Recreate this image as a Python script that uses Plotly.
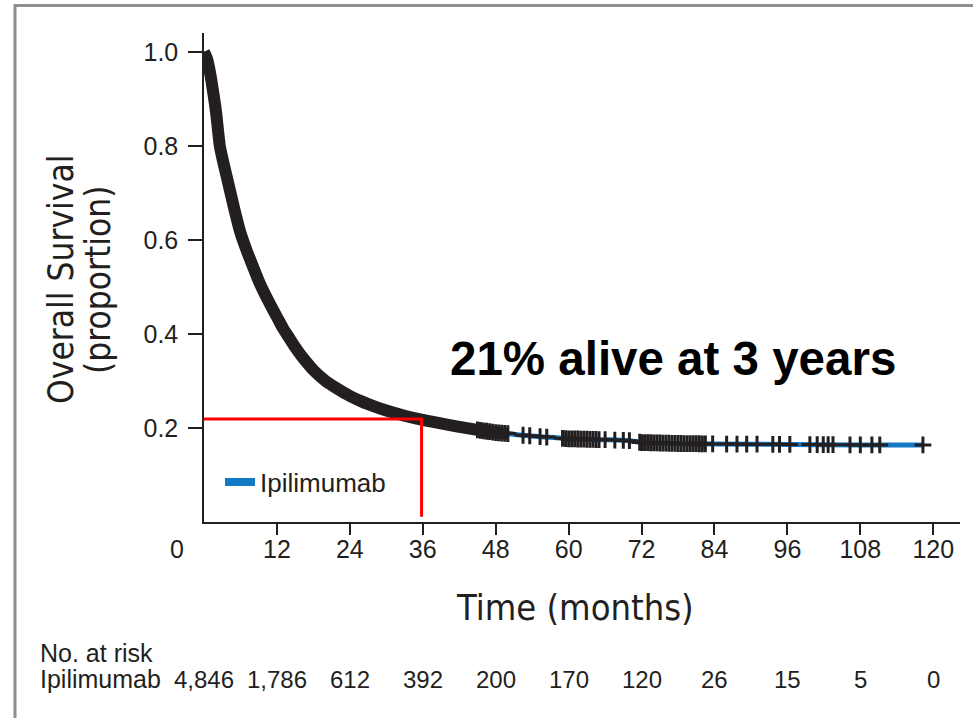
import numpy as np
import plotly.graph_objects as go

# ---------------- data ----------------
months = [0, 0.5, 1, 1.5, 2, 2.6, 3, 4, 5, 6, 7, 8, 9, 10, 11, 12, 13, 14, 15, 16,
          17, 18, 20, 22, 24, 26, 28, 30, 33, 36, 40, 44, 48, 50, 52, 56, 60, 66,
          70, 72, 78, 84, 96, 108, 118.3]
survival = [1.0, 0.985, 0.955, 0.915, 0.87, 0.80, 0.775, 0.72, 0.665, 0.615, 0.578,
            0.545, 0.513, 0.485, 0.46, 0.436, 0.412, 0.392, 0.372, 0.354, 0.338,
            0.323, 0.300, 0.283, 0.268, 0.256, 0.246, 0.237, 0.226, 0.217, 0.207,
            0.198, 0.190, 0.188, 0.185, 0.181, 0.177, 0.175, 0.173, 0.169, 0.167,
            0.166, 0.165, 0.164, 0.164]
dense_censor_until = 50   # censor marks form a solid band up to here

censor_months = [45, 45.5, 46, 46.5, 47, 47.5, 48, 48.5, 49, 49.5, 50,
                 52.5, 53.6, 55.3, 56.4,
                 59, 59.5, 60, 60.5, 61, 61.5, 62, 62.5, 63, 63.5, 64, 64.5, 65, 66,
                 67.6, 69, 70, 71.7,
                 72, 72.5, 73, 73.5, 74, 74.5, 75, 75.5, 76, 76.5, 77, 77.5, 78,
                 78.5, 79, 79.5, 80, 80.5, 81, 81.5, 82, 82.5,
                 83.7, 86, 87.7, 89.3, 91, 93.6, 94.7, 96.4,
                 99.7, 100.9, 101.9, 102.7, 103.5, 106.3, 108, 109.9, 111.2, 118.3]

x_ticks = [12, 24, 36, 48, 60, 72, 84, 96, 108, 120]
y_ticks = [0.2, 0.4, 0.6, 0.8, 1.0]
y_tick_labels = ["0.2", "0.4", "0.6", "0.8", "1.0"]

risk_months = [0, 12, 24, 36, 48, 60, 72, 84, 96, 108, 120]
risk_counts = ["4,846", "1,786", "612", "392", "200", "170", "120", "26", "15", "5", "0"]

ref_month = 35.8
ref_surv = 0.219
ref_bottom = 0.011

series_name = "Ipilimumab"
headline = "21% alive at 3 years"

# ---------------- styling ----------------
INK = "#231f20"
BLUE = "#1479c4"
RED = "#ff0000"
SANS = "Liberation Sans, Arial, sans-serif"
NARROW = "Liberation Sans Narrow, Arial Narrow, DejaVu Sans Condensed, Liberation Sans, sans-serif"

W, H = 973, 718
ML, MR, MT, MB = 204, 13, 33, 196
XMAX, YMAX = 124.4, 1.04
PW = W - ML - MR
PH = H - MT - MB


def px_to_paper_x(px):
    return (px - ML) / PW


def px_to_paper_y(py):
    return (H - MB - py) / PH


m = np.array(months)
s = np.array(survival)
band = m <= dense_censor_until
cm = np.array(censor_months)
cs = np.interp(cm, m, s)

fig = go.Figure()

# blue KM line
fig.add_trace(go.Scatter(x=m, y=s, mode="lines",
                         line=dict(color=BLUE, width=5, shape="spline", smoothing=0.6),
                         showlegend=False, hoverinfo="skip"))
# dense censor band
fig.add_trace(go.Scatter(x=m[band], y=s[band], mode="lines",
                         line=dict(color=INK, width=12, shape="spline", smoothing=0.6),
                         showlegend=False, hoverinfo="skip"))
# censor marks
fig.add_trace(go.Scatter(x=cm, y=cs, mode="markers",
                         marker=dict(symbol="cross-thin", size=12,
                                     line=dict(color=INK, width=3)),
                         showlegend=False, hoverinfo="skip"))
# red reference lines
fig.add_trace(go.Scatter(x=[0, ref_month, ref_month], y=[ref_surv, ref_surv, ref_bottom],
                         mode="lines", line=dict(color=RED, width=3),
                         showlegend=False, hoverinfo="skip"))
# legend entry
fig.add_trace(go.Scatter(x=[None], y=[None], mode="lines", name=series_name,
                         line=dict(color=BLUE, width=8), showlegend=True))

annotations = []
# y title (two lines)
annotations.append(dict(text="Overall Survival", xref="paper", yref="paper",
                        x=0, y=px_to_paper_y(280), xshift=61 - ML, textangle=-90,
                        xanchor="center", yanchor="middle", showarrow=False,
                        font=dict(family=NARROW, size=35, color=INK)))
annotations.append(dict(text="(proportion)", xref="paper", yref="paper",
                        x=0, y=px_to_paper_y(280), xshift=98 - ML, textangle=-90,
                        xanchor="center", yanchor="middle", showarrow=False,
                        font=dict(family=NARROW, size=35, color=INK)))
# x title
annotations.append(dict(text="Time (months)", xref="paper", yref="paper",
                        x=px_to_paper_x(575), y=px_to_paper_y(607),
                        xanchor="center", yanchor="middle", showarrow=False,
                        font=dict(family=NARROW, size=36, color=INK)))
# origin label
annotations.append(dict(text="0", xref="paper", yref="paper", x=0,
                        y=px_to_paper_y(549), xshift=177 - ML,
                        xanchor="center", yanchor="middle", showarrow=False,
                        font=dict(family=SANS, size=25, color=INK)))
# headline
annotations.append(dict(text="<b>" + headline + "</b>", xref="paper", yref="paper",
                        x=px_to_paper_x(673), y=px_to_paper_y(358),
                        xanchor="center", yanchor="middle", showarrow=False,
                        font=dict(family=SANS, size=47.5, color="#000000")))
# at-risk table
annotations.append(dict(text="No. at risk", xref="paper", yref="paper", x=0,
                        y=px_to_paper_y(653), xshift=38 - ML, xanchor="left",
                        yanchor="middle", showarrow=False,
                        font=dict(family=SANS, size=25, color=INK)))
annotations.append(dict(text=series_name, xref="paper", yref="paper", x=0,
                        y=px_to_paper_y(679), xshift=38 - ML, xanchor="left",
                        yanchor="middle", showarrow=False,
                        font=dict(family=SANS, size=25, color=INK)))
for t, n in zip(risk_months, risk_counts):
    annotations.append(dict(text=n, x=t, xref="x", yref="paper",
                            y=px_to_paper_y(679), xanchor="center",
                            yanchor="middle", showarrow=False,
                            font=dict(family=SANS, size=24, color=INK)))

fig.update_layout(
    width=W, height=H,
    margin=dict(l=ML, r=MR, t=MT, b=MB, pad=0),
    paper_bgcolor="white", plot_bgcolor="white",
    annotations=annotations,
    showlegend=True,
    legend=dict(x=px_to_paper_x(220), y=px_to_paper_y(482), xanchor="left",
                yanchor="middle", bgcolor="rgba(0,0,0,0)", borderwidth=0,
                font=dict(family=SANS, size=26, color=INK)),
    shapes=[dict(type="rect", xref="paper", yref="paper",
                 x0=px_to_paper_x(15), x1=px_to_paper_x(1000),
                 y0=px_to_paper_y(760), y1=px_to_paper_y(5.5),
                 line=dict(color="#8f8f8f", width=3), fillcolor="rgba(0,0,0,0)",
                 layer="below")],
)
fig.update_xaxes(range=[0, XMAX], tickvals=x_ticks, ticktext=[str(v) for v in x_ticks],
                 showline=True, linecolor=INK, linewidth=1.5, ticks="outside",
                 ticklen=11, tickwidth=1.5, tickcolor=INK, showgrid=False,
                 zeroline=False, ticklabelstandoff=-7,
                 tickfont=dict(family=SANS, size=25, color=INK))
fig.update_yaxes(range=[0, YMAX], tickvals=y_ticks, ticktext=y_tick_labels,
                 showline=True, linecolor=INK, linewidth=1.5, ticks="outside",
                 ticklen=14, tickwidth=1.5, tickcolor=INK, showgrid=False,
                 zeroline=False, ticklabelstandoff=5,
                 tickfont=dict(family=SANS, size=25, color=INK))

fig.write_html("out.html")
